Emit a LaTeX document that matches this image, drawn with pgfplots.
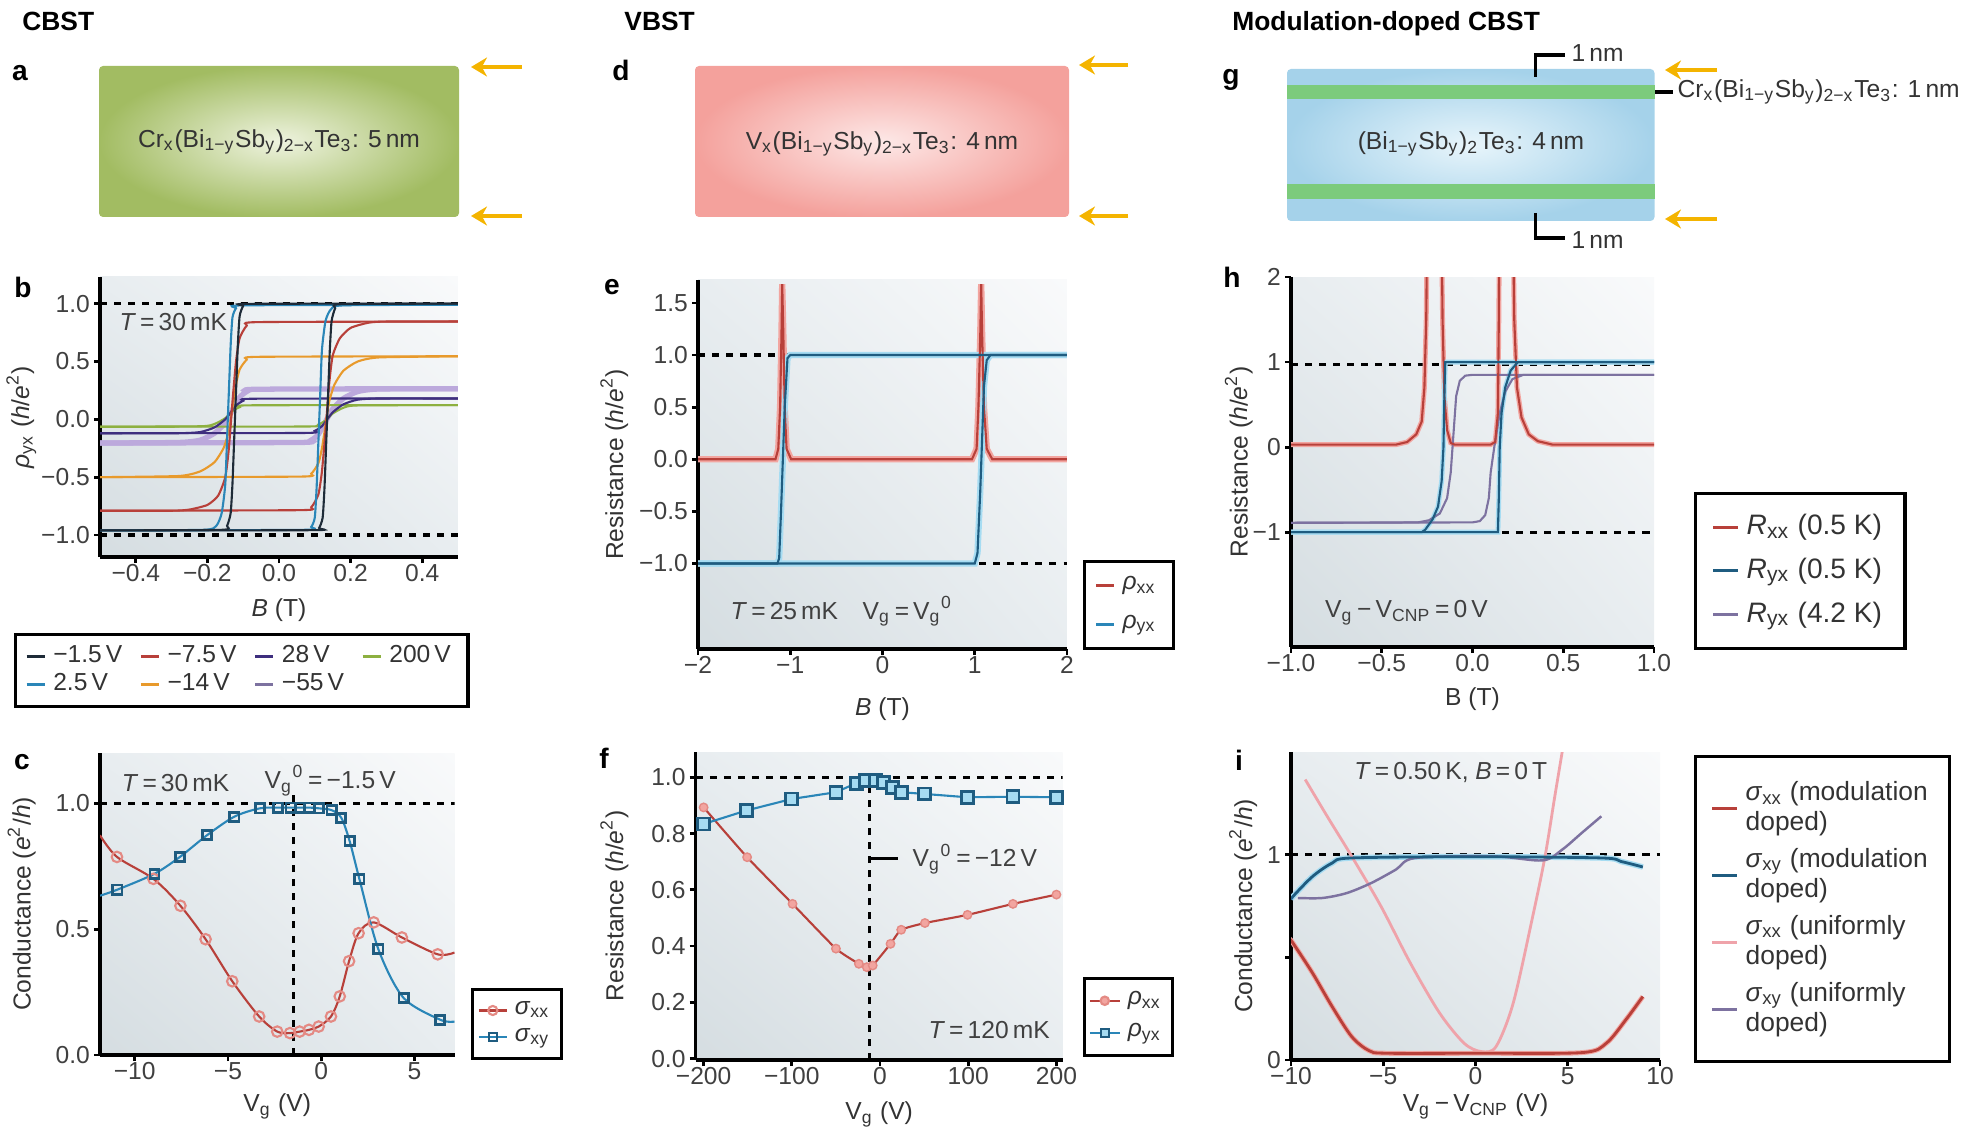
\documentclass[border=0pt]{standalone}
\usepackage{fontspec}
\setmainfont{Liberation Sans}
\usepackage{pgfplots}
\pgfplotsset{compat=1.18}
\usetikzlibrary{shadings,arrows.meta}
\definecolor{cRed}{HTML}{B8403A}
\definecolor{cRedL}{HTML}{F2A5A0}
\definecolor{cRedM}{HTML}{E48A84}
\definecolor{cBlue}{HTML}{2A86B8}
\definecolor{cBlueD}{HTML}{1F5C80}
\definecolor{cBlueL}{HTML}{A6DCF2}
\definecolor{cBlack}{HTML}{1E2B38}
\definecolor{cOrange}{HTML}{E89A2C}
\definecolor{cGreen}{HTML}{8DB040}
\definecolor{cPurD}{HTML}{3E2E7E}
\definecolor{cPurL}{HTML}{BCA9DC}
\definecolor{cPurG}{HTML}{7D72A0}
\definecolor{cPink}{HTML}{EFA3AA}
\definecolor{cArrow}{HTML}{F4B400}
\definecolor{bgA}{HTML}{D5DDE1}
\definecolor{bgB}{HTML}{E8EDF0}
\definecolor{bgC}{HTML}{F9FAFB}
\definecolor{gIn}{HTML}{EEF3DF}
\definecolor{gOut}{HTML}{A2BC62}
\definecolor{rIn}{HTML}{FDE8E7}
\definecolor{rOut}{HTML}{F4A19C}
\definecolor{bIn}{HTML}{E8F5FB}
\definecolor{bOut}{HTML}{A5D2EA}
\definecolor{gStripe}{HTML}{7CCB7C}
\newcommand\fs{\fontsize{7}{8.4}\selectfont}
\newcommand\sub[1]{\textsubscript{#1}}
\newcommand\sups[1]{\textsuperscript{#1}}
\newcommand\Vgz{V\sub{g}\sups{0}}
\pgfplotsset{
  panel/.style={
    scale only axis,
    axis x line*=bottom, axis y line*=left,
    axis line style={line width=1pt, black},
    tick align=outside,
    major tick length=0.6mm,
    tick style={line width=0.8pt, black},
    tick label style={font=\fs, text=black!75, inner sep=1pt},
    xticklabel style={text height=5pt, text depth=0pt, inner ysep=0pt},
    label style={font=\fs, text=black!80},
    axis background/.style={shade, lower left=bgA, upper right=bgC, upper left=bgB, lower right=bgB},
    legend style={draw=black, line width=0.9pt, font=\fs, text=black!80, fill=white, inner xsep=1mm, inner ysep=0.8mm},
    legend cell align=left,
    legend image code/.code={\draw[#1, line width=0.9pt] (0mm,0mm) -- (1.8mm,0mm);},
  },
  ref/.style={black, line width=0.9pt, dash pattern=on 2pt off 2pt, forget plot},
  ln/.style={forget plot, line width=0.6pt},
  hl/.style={forget plot, line width=1.8pt},
}
\begin{document}
\begin{tikzpicture}
\path[use as bounding box] (0,0) rectangle (196.8mm,113.1mm);
% ---------------- schematic row ----------------
\begin{scope}[x=1mm,y=1mm]
\node[anchor=west,font=\fontsize{7.5}{9}\selectfont\bfseries] at (1.0,111.0) {CBST};
\node[anchor=west,font=\fontsize{7.5}{9}\selectfont\bfseries] at (61.2,111.0) {VBST};
\node[anchor=west,font=\fontsize{7.5}{9}\selectfont\bfseries] at (122.0,110.7) {Modulation-doped CBST};
\foreach \l/\x/\y in {a/2.0/105.8, d/62.1/106.1, g/123.1/105.1, b/2.3/84.4, e/61.2/84.4, h/123.2/85.4, c/2.2/36.9, f/60.4/37.3, i/123.9/37.1}
  \node[font=\fontsize{8}{9}\selectfont\bfseries] at (\x,\y) {\l};
% a
\shade[inner color=gIn, outer color=gOut, rounded corners=0.4mm] (9.9,91.4) rectangle (45.9,106.5);
\node[font=\fs, text=black!80] at (27.9,98.9) {Cr\sub{x}(Bi\sub{1−y}Sb\sub{y})\sub{2−x}Te\sub{3}: 5\,nm};
\draw[cArrow, line width=1.3pt, -{Stealth[length=1.6mm,width=1.9mm]}] (52.2,106.4) -- (47.1,106.4);
\draw[cArrow, line width=1.3pt, -{Stealth[length=1.6mm,width=1.9mm]}] (52.2,91.5) -- (47.1,91.5);
% d
\shade[inner color=rIn, outer color=rOut, rounded corners=0.4mm] (69.5,91.4) rectangle (106.9,106.5);
\node[font=\fs, text=black!80] at (88.2,98.7) {V\sub{x}(Bi\sub{1−y}Sb\sub{y})\sub{2−x}Te\sub{3}: 4\,nm};
\draw[cArrow, line width=1.3pt, -{Stealth[length=1.6mm,width=1.9mm]}] (112.8,106.6) -- (107.9,106.6);
\draw[cArrow, line width=1.3pt, -{Stealth[length=1.6mm,width=1.9mm]}] (112.8,91.5) -- (107.9,91.5);
% g
\shade[inner color=bIn, outer color=bOut, rounded corners=0.4mm] (128.7,91.0) rectangle (165.45,106.2);
\fill[gStripe] (128.7,103.2) rectangle (165.45,104.6);
\fill[gStripe] (128.7,93.2) rectangle (165.45,94.7);
\node[font=\fs, text=black!80] at (147.1,98.7) {(Bi\sub{1−y}Sb\sub{y})\sub{2}Te\sub{3}: 4\,nm};
\draw[cArrow, line width=1.3pt, -{Stealth[length=1.6mm,width=1.9mm]}] (171.7,106.1) -- (166.5,106.1);
\draw[cArrow, line width=1.3pt, -{Stealth[length=1.6mm,width=1.9mm]}] (171.7,91.2) -- (166.5,91.2);
\draw[line width=0.9pt] (153.55,105.4) -- (153.55,107.6) -- (156.5,107.6);
\node[anchor=west, font=\fs, text=black!80, inner sep=0.5mm] at (156.6,107.8) {1\,nm};
\draw[line width=0.9pt] (153.55,91.8) -- (153.55,89.3) -- (156.5,89.3);
\node[anchor=west, font=\fs, text=black!80, inner sep=0.5mm] at (156.6,89.1) {1\,nm};
\draw[line width=0.9pt] (165.5,103.9) -- (167.3,103.9);
\node[anchor=west, font=\fs, text=black!80, inner sep=0.3mm] at (167.4,103.9) {Cr\sub{x}(Bi\sub{1−y}Sb\sub{y})\sub{2−x}Te\sub{3}: 1\,nm};
\end{scope}
% ---------------- panel b ----------------
\begin{axis}[panel, at={(10mm,57.4mm)}, anchor=south west, width=35.8mm, height=28mm,
  xmin=-0.5, xmax=0.5, ymin=-1.19, ymax=1.23,
  xtick={-0.4,-0.2,0,0.2,0.4}, xticklabels={−0.4,−0.2,0.0,0.2,0.4},
  ytick={-1,-0.5,0,0.5,1}, yticklabels={−1.0,−0.5,0.0,0.5,1.0},
  xlabel={\textit{B} (T)}, ylabel={\textit{ρ}\sub{yx} (\textit{h}/\textit{e}\sups{2})},
  ylabel shift=-1.1mm, xlabel shift=0.5mm,
  legend columns=4,
  legend style={at={(-0.2416,-0.271)}, anchor=north west, nodes={inner ysep=0.8pt}, /tikz/every even column/.append style={column sep=1.0mm}},
  every axis plot/.append style={smooth, tension=0.35}]
\addplot[ref, sharp plot] coordinates {(-0.5,1) (0.5,1)};
\addplot[ref, sharp plot] coordinates {(-0.5,-1) (0.5,-1)};
\addplot[forget plot, cPurL, line width=1.5pt] coordinates {(-0.5,-0.205) (0.06,-0.20) (0.09,-0.18) (0.11,-0.13) (0.13,-0.02) (0.15,0.09) (0.18,0.18) (0.22,0.24) (0.28,0.262) (0.5,0.265)};
\addplot[forget plot, cPurL, line width=1.5pt] coordinates {(-0.5,-0.205) (-0.28,-0.20) (-0.22,-0.18) (-0.18,-0.12) (-0.15,-0.03) (-0.13,0.08) (-0.11,0.19) (-0.09,0.24) (-0.06,0.26) (0.5,0.265)};
\addplot[ln, cGreen] coordinates {(-0.5,-0.064) (0.08,-0.062) (0.11,-0.045) (0.13,-0.01) (0.15,0.05) (0.18,0.10) (0.22,0.12) (0.5,0.123)};
\addplot[ln, cGreen] coordinates {(-0.5,-0.064) (-0.22,-0.06) (-0.18,-0.04) (-0.15,0.01) (-0.13,0.07) (-0.11,0.105) (-0.08,0.121) (0.5,0.123)};
\addplot[ln, cPurD] coordinates {(-0.5,-0.12) (0.07,-0.118) (0.10,-0.10) (0.12,-0.06) (0.13,-0.02) (0.15,0.06) (0.18,0.13) (0.22,0.17) (0.28,0.18) (0.5,0.18)};
\addplot[ln, cPurD] coordinates {(-0.5,-0.12) (-0.28,-0.12) (-0.22,-0.11) (-0.18,-0.07) (-0.15,0.0) (-0.13,0.08) (-0.12,0.12) (-0.10,0.16) (-0.07,0.178) (0.5,0.18)};
\addplot[ln, cOrange] coordinates {(-0.5,-0.50) (0.06,-0.495) (0.09,-0.47) (0.11,-0.38) (0.12,-0.25) (0.13,-0.05) (0.14,0.15) (0.155,0.30) (0.18,0.42) (0.22,0.50) (0.28,0.535) (0.5,0.545)};
\addplot[ln, cOrange] coordinates {(-0.5,-0.50) (-0.28,-0.49) (-0.22,-0.45) (-0.18,-0.37) (-0.155,-0.25) (-0.14,-0.10) (-0.13,0.10) (-0.12,0.30) (-0.11,0.43) (-0.09,0.515) (-0.06,0.54) (0.5,0.545)};
\addplot[ln, cRed] coordinates {(-0.5,-0.79) (0.06,-0.785) (0.09,-0.76) (0.11,-0.65) (0.12,-0.45) (0.13,-0.1) (0.14,0.3) (0.15,0.55) (0.17,0.7) (0.20,0.79) (0.25,0.835) (0.30,0.845) (0.5,0.845)};
\addplot[ln, cRed] coordinates {(-0.5,-0.79) (-0.30,-0.79) (-0.25,-0.78) (-0.20,-0.74) (-0.17,-0.66) (-0.15,-0.50) (-0.14,-0.25) (-0.13,0.15) (-0.12,0.50) (-0.11,0.70) (-0.09,0.81) (-0.06,0.84) (0.5,0.845)};
\addplot[ln, cBlue] coordinates {(-0.5,-0.96) (0.07,-0.955) (0.09,-0.93) (0.10,-0.85) (0.105,-0.6) (0.11,-0.2) (0.115,0.2) (0.12,0.6) (0.13,0.85) (0.145,0.95) (0.18,0.985) (0.5,0.99)};
\addplot[ln, cBlue] coordinates {(-0.5,-0.96) (-0.21,-0.955) (-0.175,-0.92) (-0.16,-0.81) (-0.15,-0.56) (-0.145,-0.16) (-0.14,0.24) (-0.135,0.64) (-0.13,0.88) (-0.12,0.96) (-0.10,0.985) (0.5,0.99)};
\addplot[ln, cBlack] coordinates {(-0.5,-0.96) (0.097,-0.958) (0.112,-0.94) (0.122,-0.85) (0.127,-0.6) (0.132,-0.2) (0.137,0.2) (0.142,0.6) (0.147,0.85) (0.157,0.96) (0.172,0.995) (0.5,1.0)};
\addplot[ln, cBlack] coordinates {(-0.5,-0.96) (-0.16,-0.955) (-0.145,-0.92) (-0.135,-0.81) (-0.13,-0.56) (-0.125,-0.16) (-0.12,0.24) (-0.115,0.64) (-0.11,0.89) (-0.10,0.98) (-0.085,0.998) (0.5,1.0)};
\node[anchor=west, font=\fs, text=black!75] at (axis cs:-0.48,0.84) {\textit{T}\,=\,30\,mK};
\addlegendimage{cBlack}\addlegendentry{−1.5\,V}
\addlegendimage{cRed}\addlegendentry{−7.5\,V}
\addlegendimage{cPurD}\addlegendentry{28\,V}
\addlegendimage{cGreen}\addlegendentry{200\,V}
\addlegendimage{cBlue}\addlegendentry{2.5\,V}
\addlegendimage{cOrange}\addlegendentry{−14\,V}
\addlegendimage{cPurG}\addlegendentry{−55\,V}
\end{axis}
% ---------------- panel e ----------------
\begin{axis}[panel, at={(69.8mm,48.2mm)}, anchor=south west, width=36.9mm, height=36.9mm,
  xmin=-2, xmax=2, ymin=-1.82, ymax=1.72,
  xtick={-2,-1,0,1,2}, xticklabels={−2,−1,0,1,2},
  ytick={-1,-0.5,0,0.5,1,1.5}, yticklabels={−1.0,−0.5,0.0,0.5,1.0,1.5},
  xlabel={\textit{B} (T)}, ylabel={Resistance (\textit{h}/\textit{e}\sups{2})},
  ylabel shift=-0.5mm, xlabel shift=1.2mm,
  legend style={at={(1.043,-0.003)}, anchor=south west, row sep=0.6mm}]
\addplot[ref] coordinates {(-2,1) (2,1)};
\addplot[ref] coordinates {(-2,-1) (2,-1)};
\addplot[hl, cRedL] coordinates {(-2,0) (-1.16,0) (-1.13,0.1) (-1.11,0.5) (-1.095,1.2) (-1.087,1.68) (-1.075,1.2) (-1.06,0.5) (-1.04,0.1) (-0.99,0) (0.97,0) (1.02,0.1) (1.04,0.5) (1.06,1.2) (1.07,1.68) (1.08,1.2) (1.1,0.5) (1.13,0.1) (1.19,0) (2,0)};
\addplot[hl, cBlueL] coordinates {(2,1) (-1.0,1) (-1.03,0.97) (-1.06,0.5) (-1.08,0) (-1.10,-0.5) (-1.12,-0.95) (-1.14,-1) (-2,-1)};
\addplot[hl, cBlueL] coordinates {(-2,-1) (1.0,-1) (1.03,-0.9) (1.06,-0.3) (1.08,0.2) (1.1,0.7) (1.13,0.95) (1.17,1) (2,1)};
\addplot[ln, cRed] coordinates {(-2,0) (-1.16,0) (-1.13,0.1) (-1.11,0.5) (-1.095,1.2) (-1.087,1.68) (-1.075,1.2) (-1.06,0.5) (-1.04,0.1) (-0.99,0) (0.97,0) (1.02,0.1) (1.04,0.5) (1.06,1.2) (1.07,1.68) (1.08,1.2) (1.1,0.5) (1.13,0.1) (1.19,0) (2,0)};
\addplot[ln, cBlueD] coordinates {(2,1) (-1.0,1) (-1.03,0.97) (-1.06,0.5) (-1.08,0) (-1.10,-0.5) (-1.12,-0.95) (-1.14,-1) (-2,-1)};
\addplot[ln, cBlueD] coordinates {(-2,-1) (1.0,-1) (1.03,-0.9) (1.06,-0.3) (1.08,0.2) (1.1,0.7) (1.13,0.95) (1.17,1) (2,1)};
\node[anchor=west, font=\fs, text=black!75] at (axis cs:-1.78,-1.46) {\textit{T}\,=\,25\,mK\quad V\sub{g}\,=\,\Vgz};
\addlegendimage{cRed}\addlegendentry{\textit{ρ}\sub{xx}}
\addlegendimage{cBlue}\addlegendentry{\textit{ρ}\sub{yx}}
\end{axis}
% ---------------- panel h ----------------
\begin{axis}[panel, at={(129.1mm,48.4mm)}, anchor=south west, width=36.3mm, height=37mm,
  xmin=-1, xmax=1, ymin=-2.35, ymax=2,
  xtick={-1,-0.5,0,0.5,1}, xticklabels={−1.0,−0.5,0.0,0.5,1.0},
  ytick={-1,0,1,2}, yticklabels={−1,0,1,2},
  xlabel={B (T)}, ylabel={Resistance (\textit{h}/\textit{e}\sups{2})},
  ylabel shift=-1.6mm, xlabel shift=0.4mm,
  legend image code/.code={\draw[#1, line width=0.9pt] (0mm,0mm) -- (2.5mm,0mm);},
  legend style={at={(1.110,-0.008)}, anchor=south west, row sep=0.4mm, inner ysep=1.4mm, inner xsep=1.6mm, font=\fontsize{8}{9.6}\selectfont}]
\addplot[ref] coordinates {(-1,0.97) (1,0.97)};
\addplot[ref] coordinates {(-1,-1) (1,-1)};
\addplot[hl, cRedL, line width=1.4pt] coordinates {(-1,0.03) (-0.42,0.03) (-0.36,0.06) (-0.31,0.15) (-0.28,0.3) (-0.265,0.7) (-0.255,1.5) (-0.25,2.5) (-0.21,3.5) (-0.17,2.5) (-0.165,1.5) (-0.155,0.6) (-0.14,0.2) (-0.12,0.05) (-0.10,0.03) (0.10,0.03) (0.125,0.06) (0.14,0.4) (0.145,1.5) (0.148,2.5) (0.185,3.5) (0.224,2.5) (0.23,1.5) (0.245,0.7) (0.27,0.35) (0.31,0.15) (0.36,0.07) (0.44,0.03) (1,0.03)};
\addplot[hl, cBlueL, line width=1.4pt] coordinates {(1,1.0) (-0.15,1.0) (-0.155,0.6) (-0.16,0.0) (-0.17,-0.4) (-0.19,-0.7) (-0.22,-0.85) (-0.26,-0.97) (-0.28,-1.0) (-1,-1.0)};
\addplot[hl, cBlueL, line width=1.4pt] coordinates {(-1,-1) (0.14,-1) (0.145,-0.6) (0.15,0) (0.16,0.4) (0.18,0.7) (0.21,0.9) (0.25,1.0) (1,1.0)};
\addplot[ln, cPurG] coordinates {(1,0.85) (0.0,0.85) (-0.04,0.84) (-0.07,0.78) (-0.09,0.6) (-0.10,0.3) (-0.11,0.0) (-0.12,-0.3) (-0.14,-0.6) (-0.18,-0.78) (-0.24,-0.86) (-0.3,-0.885) (-1,-0.89)};
\addplot[ln, cPurG] coordinates {(-1,-0.89) (0.0,-0.885) (0.04,-0.87) (0.07,-0.8) (0.09,-0.6) (0.10,-0.3) (0.12,0.0) (0.15,0.4) (0.18,0.65) (0.22,0.8) (0.28,0.85) (1,0.85)};
\addplot[ln, cRed] coordinates {(-1,0.03) (-0.42,0.03) (-0.36,0.06) (-0.31,0.15) (-0.28,0.3) (-0.265,0.7) (-0.255,1.5) (-0.25,2.5) (-0.21,3.5) (-0.17,2.5) (-0.165,1.5) (-0.155,0.6) (-0.14,0.2) (-0.12,0.05) (-0.10,0.03) (0.10,0.03) (0.125,0.06) (0.14,0.4) (0.145,1.5) (0.148,2.5) (0.185,3.5) (0.224,2.5) (0.23,1.5) (0.245,0.7) (0.27,0.35) (0.31,0.15) (0.36,0.07) (0.44,0.03) (1,0.03)};
\addplot[ln, cBlueD] coordinates {(1,1.0) (-0.15,1.0) (-0.155,0.6) (-0.16,0.0) (-0.17,-0.4) (-0.19,-0.7) (-0.22,-0.85) (-0.26,-0.97) (-0.28,-1.0) (-1,-1.0)};
\addplot[ln, cBlueD] coordinates {(-1,-1) (0.14,-1) (0.145,-0.6) (0.15,0) (0.16,0.4) (0.18,0.7) (0.21,0.9) (0.25,1.0) (1,1.0)};
\node[anchor=west, font=\fs, text=black!75] at (axis cs:-0.88,-1.95) {V\sub{g}\,−\,V\sub{CNP}\,=\,0\,V};
\addlegendimage{cRed}\addlegendentry{\textit{R}\sub{xx} (0.5 K)}
\addlegendimage{cBlueD}\addlegendentry{\textit{R}\sub{yx} (0.5 K)}
\addlegendimage{cPurG}\addlegendentry{\textit{R}\sub{yx} (4.2 K)}
\end{axis}
% ---------------- panel c ----------------
\begin{axis}[panel, at={(10mm,7.6mm)}, anchor=south west, width=35.45mm, height=30.2mm,
  xmin=-11.86, xmax=7.14, ymin=0, ymax=1.2,
  xtick={-10,-5,0,5}, xticklabels={−10,−5,0,5},
  ytick={0,0.5,1}, yticklabels={0.0,0.5,1.0},
  xlabel={V\sub{g} (V)}, ylabel={Conductance (\textit{e}\sups{2}/\textit{h})},
  ylabel shift=0.4mm, xlabel shift=0.2mm,
  legend style={at={(1.047,-0.017)}, anchor=south west, row sep=0mm, inner xsep=0.5mm, nodes={inner ysep=1.2pt}},
  legend image code/.code={\draw[mark repeat=2,mark phase=2,#1] plot coordinates {(0mm,0mm) (1.4mm,0mm) (2.8mm,0mm)};}]
\addplot[ref] coordinates {(-11.86,1) (7.14,1)};
\addplot[ref] coordinates {(-1.5,0) (-1.5,1.04)};
\addplot[ln, cRed, smooth, tension=0.5] coordinates {(-11.86,0.873) (-10.95,0.787) (-9.0,0.70) (-7.55,0.593) (-6.2,0.46) (-4.77,0.293) (-3.33,0.153) (-2.36,0.093) (-1.68,0.087) (-1.16,0.093) (-0.66,0.10) (-0.14,0.113) (0.52,0.153) (0.99,0.233) (1.49,0.373) (2.0,0.484) (2.81,0.527) (4.32,0.467) (6.24,0.40) (7.14,0.407)};
\addplot[forget plot, only marks, mark=o, mark size=1.5pt, mark options={cRedM, line width=0.6pt}] coordinates {(-10.95,0.787) (-9.0,0.70) (-7.55,0.593) (-6.2,0.46) (-4.77,0.293) (-3.33,0.153) (-2.36,0.093) (-1.68,0.087) (-1.16,0.093) (-0.66,0.10) (-0.14,0.113) (0.52,0.153) (0.99,0.233) (1.49,0.373) (2.0,0.484) (2.81,0.527) (4.32,0.467) (6.24,0.40)};
\addplot[ln, cBlue, smooth, tension=0.5] coordinates {(-11.86,0.633) (-10.93,0.657) (-8.94,0.72) (-7.58,0.787) (-6.13,0.873) (-4.66,0.947) (-3.30,0.98) (-2.33,0.983) (-1.65,0.983) (-1.13,0.983) (-0.63,0.983) (-0.11,0.98) (0.55,0.973) (1.07,0.943) (1.52,0.85) (2.04,0.70) (3.06,0.42) (4.41,0.227) (6.38,0.14) (7.14,0.133)};
\addplot[forget plot, only marks, mark=square, mark size=1.3pt, mark options={cBlueD, line width=0.8pt}] coordinates {(-10.93,0.657) (-8.94,0.72) (-7.58,0.787) (-6.13,0.873) (-4.66,0.947) (-3.30,0.98) (-2.33,0.983) (-1.65,0.983) (-1.13,0.983) (-0.63,0.983) (-0.11,0.98) (0.55,0.973) (1.07,0.943) (1.52,0.85) (2.04,0.70) (3.06,0.42) (4.41,0.227) (6.38,0.14)};
\node[anchor=west, font=\fs, text=black!75] at (axis cs:-11.35,1.08) {\textit{T}\,=\,30\,mK};
\node[anchor=west, font=\fs, text=black!75] at (axis cs:-3.7,1.09) {\Vgz\,=\,−1.5\,V};
\addlegendimage{cRed, line width=0.6pt, mark=o, mark size=1.3pt, mark options={cRedM}}\addlegendentry{\textit{σ}\sub{xx}}
\addlegendimage{cBlue, line width=0.6pt, mark=square, mark size=1.1pt, mark options={cBlueD}}\addlegendentry{\textit{σ}\sub{xy}}
\end{axis}
% ---------------- panel f ----------------
\begin{axis}[panel, at={(69.57mm,7.1mm)}, anchor=south west, width=36.69mm, height=30.8mm,
  xmin=-209, xmax=207, ymin=-0.005, ymax=1.09,
  xtick={-200,-100,0,100,200}, xticklabels={−200,−100,0,100,200},
  ytick={0,0.2,0.4,0.6,0.8,1}, yticklabels={0.0,0.2,0.4,0.6,0.8,1.0},
  xlabel={V\sub{g} (V)}, ylabel={Resistance (\textit{h}/\textit{e}\sups{2})},
  ylabel shift=0.7mm, xlabel shift=0.5mm,
  legend style={at={(1.056,0.01)}, anchor=south west, row sep=0.3mm, inner xsep=0.4mm, nodes={inner ysep=1.5pt}},
  legend image code/.code={\draw[mark repeat=2,mark phase=2,#1] plot coordinates {(0mm,0mm) (1.5mm,0mm) (3mm,0mm)};}]
\addplot[ref] coordinates {(-209,1) (207,1)};
\addplot[ref] coordinates {(-12,-0.005) (-12,1)};
\addplot[forget plot, black, line width=0.8pt] coordinates {(-12,0.71) (20,0.71)};
\addplot[ln, cRed, smooth, tension=0.3, mark=*, mark size=1.2pt, mark options={cRedL, draw=cRedM, line width=0.4pt}] coordinates {(-200,0.893) (-150.7,0.716) (-99.2,0.55) (-50,0.391) (-24,0.337) (-15,0.325) (-8.3,0.331) (11.9,0.408) (24,0.458) (50.9,0.482) (99.2,0.511) (150.7,0.55) (200,0.583)};
\addplot[ln, cBlue, mark=square*, mark size=1.7pt, mark options={fill=cBlueL, draw=cBlueD, line width=0.8pt}] coordinates {(-200,0.834) (-151.6,0.882) (-100.1,0.923) (-50,0.947) (-27,0.979) (-16.4,0.988) (-5.2,0.988) (4.3,0.982) (14.1,0.964) (24,0.947) (50,0.941) (99.2,0.929) (150.7,0.931) (200,0.929)};
\node[anchor=west, font=\fs, text=black!75] at (axis cs:23,0.71) {\Vgz\,=\,−12\,V};
\node[anchor=west, font=\fs, text=black!75] at (axis cs:41,0.10) {\textit{T}\,=\,120\,mK};
\addlegendimage{cRed, line width=0.6pt, mark=*, mark size=1.2pt, mark options={cRedL, draw=cRedM}}\addlegendentry{\textit{ρ}\sub{xx}}
\addlegendimage{cBlue, line width=0.6pt, mark=square*, mark size=1.2pt, mark options={fill=cBlueL, draw=cBlueD}}\addlegendentry{\textit{ρ}\sub{yx}}
\end{axis}
% ---------------- panel i ----------------
\begin{axis}[panel, at={(129.1mm,7.1mm)}, anchor=south west, width=36.9mm, height=30.8mm,
  xmin=-10, xmax=10, ymin=0, ymax=1.5,
  xtick={-10,-5,0,5,10}, xticklabels={−10,−5,0,5,10},
  ytick={0,0.5,1}, yticklabels={0,,1},
  xlabel={V\sub{g}\,−\,V\sub{CNP} (V)}, ylabel={Conductance (\textit{e}\sups{2}/\textit{h})},
  ylabel shift=-0.6mm, xlabel shift=-0.3mm,
  legend image code/.code={\draw[#1, line width=0.9pt] (0mm,0mm) -- (2.5mm,0mm);},
  legend style={at={(1.092,0.99)}, anchor=north west, row sep=0.7mm, inner ysep=2.2mm, inner xsep=1.5mm, nodes={inner ysep=0.8pt}, cells={align=left}, font=\fontsize{7.5}{8.5}\selectfont},
  every axis plot/.append style={smooth, tension=0.5}]
\addplot[ref, sharp plot] coordinates {(-10,1) (10,1)};
\addplot[hl, cBlueL, line width=1.6pt] coordinates {(-10,0.78) (-9.89,0.797) (-8.83,0.894) (-7.77,0.959) (-6.71,0.984) (0,0.99) (6.82,0.984) (7.88,0.967) (9.07,0.94)};
\addplot[ln, cPink, line width=0.8pt] coordinates {(-9.23,1.366) (-8.04,1.187) (-6.71,0.992) (-5.12,0.748) (-3.53,0.472) (-1.94,0.228) (-0.61,0.081) (0.32,0.041) (1.11,0.065) (2.04,0.276) (3.10,0.699) (3.77,0.992) (4.30,1.285) (4.69,1.496) (4.9,1.61)};
\addplot[ln, cPurG, line width=0.7pt] coordinates {(-9.63,0.789) (-8.30,0.789) (-6.98,0.813) (-5.65,0.862) (-4.32,0.927) (-3.26,0.984) (0.98,0.992) (3.63,0.972) (4.69,1.024) (5.76,1.106) (6.82,1.187)};
\addplot[hl, cRedL, line width=1.4pt] coordinates {(-10,0.58) (-9.89,0.569) (-8.83,0.423) (-7.77,0.26) (-6.71,0.114) (-5.78,0.046) (-4.85,0.033) (0,0.033) (5.76,0.036) (7.08,0.081) (8.14,0.195) (9.07,0.309)};
\addplot[ln, cRed, line width=0.8pt] coordinates {(-10,0.58) (-9.89,0.569) (-8.83,0.423) (-7.77,0.26) (-6.71,0.114) (-5.78,0.046) (-4.85,0.033) (0,0.033) (5.76,0.036) (7.08,0.081) (8.14,0.195) (9.07,0.309)};
\addplot[ln, cBlueD, line width=0.8pt] coordinates {(-10,0.78) (-9.89,0.797) (-8.83,0.894) (-7.77,0.959) (-6.71,0.984) (0,0.99) (6.82,0.984) (7.88,0.967) (9.07,0.94)};
\node[anchor=west, font=\fs, text=black!75] at (axis cs:-7.24,1.40) {\textit{T}\,=\,0.50\,K, \textit{B}\,=\,0\,T};
\addlegendimage{cRed}\addlegendentry{\textit{σ}\sub{xx} (modulation\\doped)}
\addlegendimage{cBlueD}\addlegendentry{\textit{σ}\sub{xy} (modulation\\doped)}
\addlegendimage{cPink}\addlegendentry{\textit{σ}\sub{xx} (uniformly\\doped)}
\addlegendimage{cPurG}\addlegendentry{\textit{σ}\sub{xy} (uniformly\\doped)}
\end{axis}
\end{tikzpicture}
\end{document}
